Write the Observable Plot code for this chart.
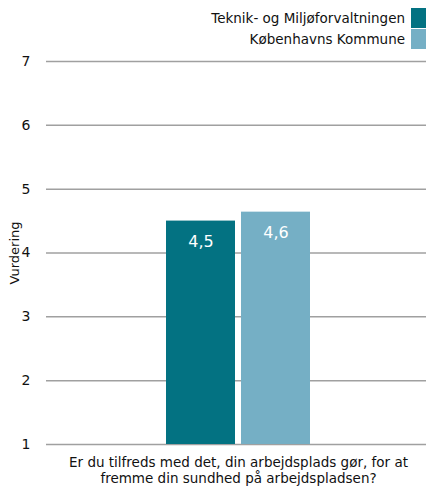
<!DOCTYPE html>
<html><head><meta charset="utf-8">
<script src="https://cdn.jsdelivr.net/npm/d3@7"></script>
<script src="https://cdn.jsdelivr.net/npm/@observablehq/plot@0.6"></script>
<style>
body{margin:0;background:#fff;font-family:"DejaVu Sans",Verdana,sans-serif;}
#legend{position:relative;width:426px;height:52px;}
.row{position:absolute;right:0;display:flex;align-items:center;font-size:13.5px;color:#111;}
.sw{width:15px;height:20px;margin-left:6px;}
</style></head><body>
<div id="legend"></div>
<div id="chart"></div>
<script>
const question = "Er du tilfreds med det, din arbejdsplads gør, for at\nfremme din sundhed på arbejdspladsen?";
const series = ["Teknik- og Miljøforvaltningen", "Københavns Kommune"];
const values = [4.5, 4.64];
const colors = ["#037282", "#75AFC5"];
const yTicks = [1, 2, 3, 4, 5, 6, 7];

const data = series.map((s, i) => ({s, v: values[i]}));

const leg = document.getElementById("legend");
series.forEach((s, i) => {
  const r = document.createElement("div");
  r.className = "row";
  r.style.top = (8 + i * 21) + "px";
  r.innerHTML = `<span>${s}</span><span class="sw" style="background:${colors[i]}"></span>`;
  leg.appendChild(r);
});

const chart = Plot.plot({
  width: 426,
  height: 435,
  marginTop: 9,
  marginBottom: 43,
  marginLeft: 46,
  marginRight: 0,
  style: {fontFamily: "DejaVu Sans, Verdana, sans-serif", fontSize: "14px", color: "#111", overflow: "visible"},
  x: {domain: series, paddingInner: 0.08, paddingOuter: 1.573, align: 0.508, axis: null},
  y: {domain: [1, 7], ticks: yTicks, label: null, axis: null},
  color: {domain: series, range: colors},
  marks: [
    Plot.ruleY(yTicks, {stroke: "#a0a0a0", strokeWidth: 1.5}),
    Plot.text(yTicks, {y: d => d, text: d => String(d), frameAnchor: "left", dx: -16, textAnchor: "end", fontSize: 14, fill: "#111"}),
    Plot.text(["Vurdering"], {frameAnchor: "left", dx: -32, rotate: -90, textAnchor: "middle", fontSize: 13, fill: "#111"}),
    Plot.barY(data, {x: "s", y1: 1, y2: "v", fill: "s"}),
    Plot.text(data, {x: "s", y: "v", text: d => d.v.toFixed(1).replace(".", ","), dy: 21, fill: "white", fontSize: 16, lineAnchor: "middle"}),
    Plot.text([question], {frameAnchor: "bottom", dx: 2, dy: 11, fontSize: 13.5, lineAnchor: "top", lineHeight: 1.2, fill: "#111"})
  ]
});
document.getElementById("chart").appendChild(chart);
</script>
</body></html>
